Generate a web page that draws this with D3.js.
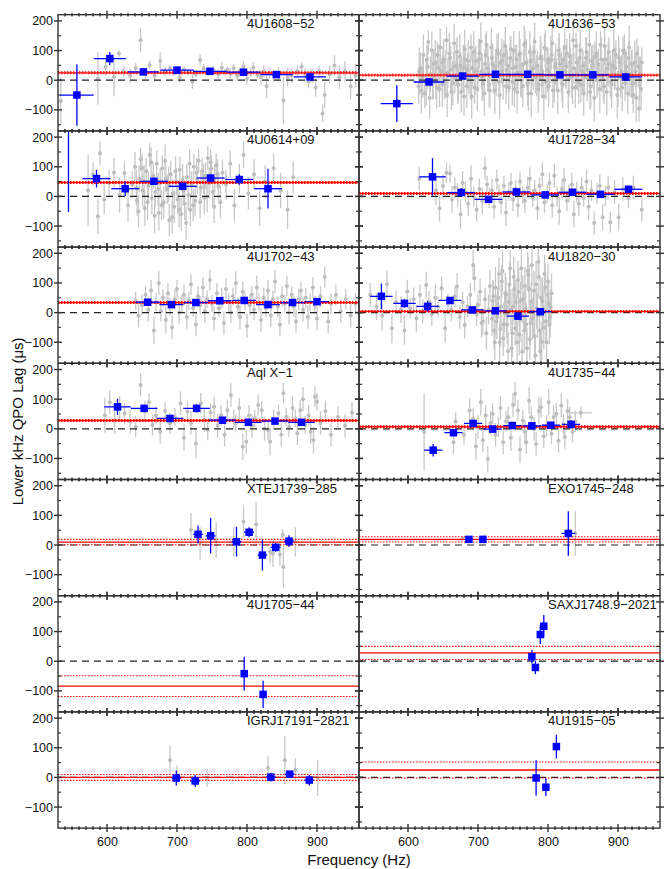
<!DOCTYPE html>
<html>
<head>
<meta charset="utf-8">
<script src="https://cdn.jsdelivr.net/npm/d3@7"></script>
<style>
  body { margin: 0; background: #fff; }
  text { font-family: "Liberation Sans", Arial, Helvetica, sans-serif; }
</style>
</head>
<body>
<div id="canvas"></div>
<script>
// panel names, in reading order (left, right, left, right ...)
const sources = ["4U1608\u221252", "4U1636\u221253", "4U0614+09", "4U1728\u221234",
                 "4U1702\u221243", "4U1820\u221230", "Aql X\u22121", "4U1735\u221244",
                 "XTEJ1739\u2212285", "EXO1745\u2212248", "4U1705\u221244", "SAXJ1748.9\u22122021",
                 "IGRJ17191\u22122821", "4U1915\u221205"];

// constant fit per source: mean lag and its 1-sigma error (us)
const fitMean = [25, 17, 47, 10, 34, 4, 28, 7, 10, 19, -84, 28, 0, 25];
const fitErr  = [3, 3, 3, 3, 3, 3, 3, 3, 9, 9, 35, 22, 10, 27];

const xTicks = [600, 700, 800, 900];
const yTicks = [-100, 0, 100, 200];
const yMinor = [-150, -50, 50, 150];

// binned lags: [freq, lag, freq err, lag err]
const blue1608 = [[557,-50,24,104],[604,73,23,22],[652,28,22,10],[700,34,24,8],[747,30,24,8],[795,27,24,8],[842,19,23,8],[890,11,23,10]];
const blue1636 = [[584,-79,23,62],[630,-6,22,12],[678,14,23,8],[725,20,23,7],[771,20,23,7],[817,18,23,7],[864,18,23,7],[911,11,23,8]];
const blue0614 = [[545,240,0,293],[585,60,20,30],[626,26,20,25],[667,51,20,12],[708,34,20,12],[748,62,20,12],[789,57,20,18],[830,26,20,67]];
const blue1728 = [[635,66,19,63],[676,13,20,15],[715,-10,20,8],[755,15,20,8],[796,5,20,8],[835,14,20,8],[875,7,20,8],[915,24,20,10]];
const blue1702 = [[658,35,17,10],[692,27,17,8],[727,34,17,10],[761,40,17,10],[796,41,17,8],[830,27,17,8],[865,34,17,10],[900,37,17,10]];
const blue1820 = [[562,55,16,43],[595,31,16,15],[628,21,16,18],[660,41,16,10],[692,9,16,8],[725,6,16,6],[757,-12,16,8],[789,3,16,8]];
const blueAql  = [[615,74,19,27],[653,69,19,12],[690,35,19,8],[728,69,19,14],[765,29,19,8],[802,22,19,8],[840,26,19,8],[878,22,19,8]];
const blue1735 = [[636,-72,13,21],[665,-13,13,12],[693,18,13,8],[721,-1,13,6],[749,11,13,7],[777,10,13,7],[804,12,13,7],[833,15,13,15]];
const blueXTE  = [[730,36,7,30],[748,31,7,60],[785,11,7,50],[803,43,7,17],[822,-34,7,52],[841,-8,7,15],[860,13,7,20]];
const blueEXO  = [[687,19,6,10],[707,19,6,10],[829,39,10,75]];
const blue1705 = [[796,-42,0,57],[823,-112,0,46]];
const blueSAX  = [[777,15,0,23],[782,-21,0,22],[789,90,0,32],[794,118,0,38]];
const blueIGR  = [[699,-2,7,25],[726,-12,7,20],[834,1,7,15],[861,11,7,10],[889,-9,7,18]];
const blue1915 = [[783,-2,0,60],[797,-33,0,30],[812,104,0,40]];

// individual observations: [freq, lag, lag err, (freq err)]
const gray1608 = [[534,-70,80],[587,6,90],[598,45,30],[610,11,65],[617,90,12],[624,30,20],[633,15,25],[641,40,18],[648,135,40],[655,20,18],[661,51,15],[668,15,20],[676,65,30],[683,30,15],[690,40,12],[696,25,10],[704,10,18],[710,35,12],[716,28,10],[722,-5,25],[727,22,12],[733,68,20],[738,40,15],[745,30,15],[752,35,12],[759,20,15],[764,42,20],[769,28,12],[772,35,10],[776,22,18],[781,40,15],[786,15,18],[790,30,12],[795,45,20],[800,5,20],[805,25,15],[809,42,20],[815,18,12],[820,10,25],[824,30,20],[828,-20,40],[832,25,18],[838,15,22],[845,20,25],[852,-68,80],[858,10,30],[864,15,25],[872,30,20],[878,45,15],[883,20,20],[888,-5,22],[893,15,25],[898,-25,30],[903,30,20],[908,-112,30],[911,-50,45],[918,20,30],[925,50,35],[932,10,40],[940,30,35],[948,-20,45],[955,15,40]];
const gray1636 = [[615,-20,60],[618,40,55],[621,10,70],[624,-45,50],[627,70,45],[629,129,40],[632,20,60],[635,-10,55],[637,55,50],[640,0,65],[642,85,45],[645,-30,60],[647,30,50],[650,60,55],[652,-5,60],[655,135,45],[657,25,50],[660,75,55],[662,-40,60],[665,45,50],[667,10,55],[670,95,50],[672,-15,60],[675,50,45],[677,20,55],[680,-55,65],[682,70,50],[685,35,55],[687,5,50],[690,110,45],[692,40,60],[695,-25,55],[697,65,50],[700,15,55],[702,90,50],[705,30,60],[707,-10,55],[710,55,50],[712,120,45],[715,25,55],[717,-35,60],[720,75,50],[722,10,55],[725,45,50],[727,100,55],[730,-5,60],[732,60,45],[735,30,55],[737,85,50],[740,-20,60],[742,50,50],[745,15,55],[747,105,45],[750,40,55],[752,-30,60],[755,70,50],[757,25,55],[760,90,50],[762,0,60],[765,55,50],[767,125,45],[770,20,55],[772,-45,60],[775,65,50],[777,35,55],[780,95,50],[782,10,55],[785,50,50],[787,-15,60],[790,80,50],[792,30,55],[795,110,45],[797,-5,60],[800,60,50],[802,25,55],[805,85,50],[807,-35,60],[810,45,50],[812,15,55],[815,100,45],[817,55,55],[820,-10,60],[822,70,50],[825,30,55],[827,90,50],[830,5,60],[832,60,50],[835,-25,55],[837,40,50],[840,115,45],[842,20,55],[845,75,50],[847,-15,60],[850,50,50],[852,10,55],[855,95,50],[857,35,55],[860,-40,60],[862,65,50],[865,25,55],[867,80,50],[870,0,60],[872,55,50],[875,120,45],[877,15,55],[880,-20,60],[882,70,50],[885,40,55],[887,95,50],[890,-5,60],[892,50,50],[895,20,55],[897,85,50],[900,-30,60],[902,60,50],[905,30,55],[907,100,45],[910,-10,60],[912,45,50],[915,75,55],[917,5,60],[920,55,50],[922,-50,60],[925,30,55],[927,90,50],[930,-96,45],[932,20,60],[934,60,50],[800,70,0,25]];
const gray1636b = [[616,30,80],[619,-35,75],[622,85,70],[626,-5,80],[628,45,75],[631,-60,70],[634,100,65],[636,15,80],[639,60,75],[641,-25,70],[644,40,80],[646,110,65],[649,-15,75],[651,70,70],[654,20,80],[656,-50,75],[659,90,70],[661,35,80],[664,-10,75],[666,125,65],[669,50,70],[671,0,80],[674,80,75],[676,-40,70],[679,40,80],[681,105,65],[684,-20,75],[686,65,70],[689,15,80],[691,-55,75],[694,95,70],[696,30,80],[699,-30,75],[701,70,70],[704,130,65],[706,10,80],[709,-45,75],[711,85,70],[714,40,80],[716,-15,75],[719,110,65],[721,55,70],[724,-35,80],[726,20,75],[729,90,70],[731,-50,80],[734,65,75],[736,5,70],[739,115,65],[741,35,80],[744,-25,75],[746,75,70],[749,-5,80],[751,100,65],[754,45,75],[756,-40,70],[759,85,80],[761,20,75],[764,-20,70],[766,120,65],[769,60,80],[771,-10,75],[774,95,70],[776,-45,80],[779,40,75],[781,130,65],[784,15,70],[786,-30,80],[789,75,75],[791,10,70],[794,-55,80],[796,105,65],[799,35,75],[801,-20,70],[804,70,80],[806,125,65],[809,0,75],[811,55,70],[814,-35,80],[816,85,75],[819,25,70],[821,-15,80],[824,110,65],[826,45,75],[829,-40,70],[831,80,80],[834,15,75],[836,135,65],[839,-25,70],[841,60,80],[844,-5,75],[846,100,70],[849,30,80],[851,-45,75],[854,75,70],[856,10,80],[859,120,65],[861,-20,75],[864,50,70],[866,-60,80],[869,90,75],[871,20,70],[874,-30,80],[876,70,75],[879,5,70],[881,115,65],[884,-40,80],[886,55,75],[889,15,70],[891,-15,80],[894,100,75],[896,40,70],[899,-50,80],[901,75,75],[904,10,70],[906,-25,80],[909,90,65],[911,30,75],[914,-45,70],[916,110,75],[919,20,80],[921,-10,70],[924,60,75],[926,-60,80],[929,45,70],[931,5,75],[933,-30,70]];
const gray0614 = [[573,20,120],[580,75,40],[587,-67,60],[590,146,40],[596,-10,50],[603,45,45],[610,80,50],[618,5,60],[625,79,40],[630,-30,55],[636,40,45],[640,100,50],[643,-15,50],[646,60,45],[648,125,40],[651,20,55],[654,-40,60],[656,85,45],[659,35,50],[661,140,40],[664,-5,55],[666,70,45],[669,15,50],[671,110,45],[674,-55,60],[676,45,50],[679,95,45],[681,-20,55],[684,60,45],[686,25,50],[689,-80,55],[691,75,45],[694,10,50],[696,-35,55],[699,50,45],[701,-10,50],[704,90,45],[706,-60,55],[709,20,50],[711,-25,55],[714,65,45],[716,5,50],[719,-45,55],[721,40,45],[724,100,45],[726,-15,50],[729,55,45],[731,120,40],[734,30,50],[736,85,45],[739,-5,55],[741,70,45],[744,130,40],[746,45,50],[749,95,45],[751,15,50],[754,60,45],[756,105,40],[759,35,50],[762,-20,55],[765,80,45],[770,40,50],[776,110,45],[782,-30,55],[789,60,50],[795,140,45],[802,10,55],[810,75,50],[818,-40,60],[826,50,55],[838,95,50],[848,20,60],[858,-45,65],[866,65,55]];
const gray0614b = [[642,30,60],[645,-50,55],[650,95,50],[653,50,55],[658,-20,60],[663,115,50],[668,-65,60],[673,25,55],[678,-30,50],[683,120,55],[688,40,60],[693,-70,55],[698,85,50],[703,-45,60],[708,55,55],[713,-90,55],[718,110,50],[723,-30,55],[728,80,50],[733,-20,55],[738,60,50],[743,0,55],[748,115,45],[753,-35,55],[758,75,50]];
const gray1728 = [[616,60,40],[640,20,50],[645,-40,45],[650,35,40],[655,80,35],[660,77,30],[663,-10,45],[667,30,35],[671,5,40],[675,-60,50],[678,45,40],[682,15,35],[686,-25,40],[690,60,45],[694,0,35],[698,-45,40],[702,25,35],[706,-15,45],[710,95,40],[713,40,30],[716,-5,35],[720,20,40],[723,-35,40],[727,55,35],[730,10,30],[733,-20,40],[737,35,35],[740,-55,45],[744,15,30],[747,45,35],[750,-10,40],[754,25,30],[757,-30,40],[760,50,35],[764,5,30],[767,-15,40],[771,30,35],[774,60,40],[778,-5,30],[781,20,35],[785,-40,40],[788,35,30],[792,75,40],[795,-20,35],[799,10,30],[802,45,35],[806,-30,40],[809,70,40],[813,0,35],[816,-50,45],[820,25,35],[823,55,40],[827,-15,35],[830,10,30],[834,40,40],[837,-60,45],[841,15,35],[844,-25,40],[848,30,35],[851,-5,30],[855,50,40],[858,-35,45],[862,20,35],[866,-90,40],[870,10,35],[874,35,40],[878,-70,45],[882,0,35],[886,30,40],[889,-87,35],[895,15,40],[901,-70,45],[907,25,40],[915,-5,35],[922,30,40],[934,-45,40]];
const gray1702 = [[641,40,30],[645,-10,40],[650,25,35],[655,60,30],[659,10,40],[663,75,35],[667,-60,45],[670,35,30],[674,100,40],[677,5,35],[680,50,30],[684,-25,45],[687,65,35],[690,20,30],[693,-50,40],[697,45,35],[700,80,30],[703,0,40],[707,30,30],[710,60,35],[714,-15,40],[717,40,30],[720,95,35],[723,15,30],[727,-40,40],[730,55,35],[733,25,30],[737,85,35],[740,5,40],[743,45,30],[747,110,35],[750,30,30],[753,-20,40],[757,65,35],[760,15,30],[764,50,35],[767,-35,40],[770,80,35],[774,35,30],[777,0,35],[780,55,30],[784,100,40],[787,20,30],[790,-15,40],[794,70,35],[797,40,30],[800,-45,40],[804,25,35],[807,60,30],[810,10,35],[814,85,40],[817,35,30],[820,-25,40],[824,50,35],[827,15,30],[830,75,35],[834,-10,40],[837,45,30],[840,105,40],[844,20,35],[847,-40,40],[850,55,35],[854,30,30],[857,90,35],[860,0,40],[864,60,30],[867,20,35],[870,-30,40],[874,45,35],[877,75,30],[880,10,40],[884,50,35],[887,-15,40],[890,35,30],[894,85,35],[897,25,30],[900,-20,40],[905,55,35],[911,120,35],[916,-30,40],[920,30,35],[927,60,35],[934,5,40],[941,45,35],[948,-10,40],[955,30,35]];
const gray1820 = [[546,60,40],[555,20,45],[563,-10,50],[570,96,45],[577,-53,50],[583,35,40],[590,10,45],[595,-60,50],[599,71,40],[603,15,35],[608,45,40],[612,-20,45],[617,60,35],[621,5,40],[626,93,45],[630,37,35],[634,-5,40],[639,50,45],[643,20,35],[648,82,40],[653,-53,50],[657,30,35],[662,10,40],[667,54,35],[670,88,45],[674,-15,40],[678,35,35],[681,-42,45],[685,20,35],[689,60,40],[693,161,50],[695,116,45],[698,-5,40],[700,26,35],[703,70,45],[705,-35,50],[707,-30,45],[710,45,40],[712,-70,55],[715,10,50],[717,90,55],[720,-20,60],[722,55,50],[724,-100,60],[726,-30,55],[728,25,60],[730,130,55],[732,-55,60],[734,105,55],[736,-87,60],[738,0,65],[740,60,60],[742,-40,65],[744,37,55],[746,150,60],[748,-120,65],[750,20,60],[752,80,65],[753,-53,60],[755,-10,70],[757,110,65],[759,-75,70],[761,40,65],[763,-132,60],[765,0,70],[767,90,65],[769,-40,70],[771,140,65],[772,127,60],[774,-90,70],[776,37,65],[778,-20,70],[780,75,65],[782,-145,60],[784,15,70],[786,172,60],[788,-60,70],[790,50,65],[791,-98,65],[793,10,70],[795,130,65],[797,-30,70],[799,60,65],[800,105,60],[802,-42,65],[804,20,60]];
const gray1820b = [[721,40,70],[723,-60,65],[725,85,70],[727,-15,75],[729,50,70],[731,-100,65],[733,20,75],[735,140,70],[737,-40,75],[739,65,70],[741,-5,80],[743,-130,65],[745,95,75],[747,10,70],[749,-70,80],[751,120,70],[754,35,75],[756,-100,70],[758,70,80],[760,-25,75],[762,150,70],[764,45,80],[766,-60,75],[768,15,80],[770,-120,70],[773,80,80],[775,-35,75],[777,160,70],[779,0,80],[781,-80,75],[783,95,80],[785,-10,75],[787,120,70],[789,-130,75],[792,40,80],[794,-50,75],[796,85,80],[798,-100,75],[801,30,70],[803,-15,70],[805,65,65]];
const grayAql  = [[597,46,60],[604,90,40],[611,29,45],[618,70,40],[625,52,35],[633,25,40],[641,7,35],[648,148,40],[654,60,35],[660,90,30],[665,13,35],[670,45,30],[676,-10,40],[683,60,30],[690,18,35],[697,40,30],[705,86,40],[710,-30,45],[715,58,35],[720,20,40],[727,-50,50],[734,86,35],[739,30,40],[744,-4,35],[748,55,30],[753,74,35],[758,10,40],[763,46,35],[768,-20,40],[772,63,35],[777,114,40],[781,30,35],[784,18,30],[789,70,35],[794,-60,45],[799,-44,40],[803,45,35],[807,10,40],[811,35,30],[816,80,35],[821,63,30],[825,0,40],[830,-4,35],[833,-44,45],[838,30,35],[845,52,30],[849,-20,40],[852,120,35],[856,40,30],[860,7,35],[865,70,40],[869,35,30],[872,-15,40],[876,63,35],[880,100,40],[883,13,30],[888,45,35],[891,-10,40],[895,-38,45],[897,108,35],[900,91,30],[905,20,40],[912,60,35],[920,-20,40],[930,40,35],[940,10,40],[950,55,35]];
const gray1735 = [[623,-11,130],[665,-45,40],[668,25,30],[680,-20,35],[688,62,40],[693,34,35],[697,-60,45],[700,6,40],[704,90,45],[707,-39,40],[711,45,35],[714,-102,45],[718,20,40],[721,51,35],[725,-20,40],[729,6,35],[732,70,40],[736,-45,40],[740,25,35],[743,39,35],[747,-30,45],[750,80,40],[753,118,40],[757,62,35],[760,-70,45],[764,28,35],[767,-10,40],[769,-45,40],[773,95,45],[776,39,35],[780,0,40],[783,-51,40],[787,60,45],[790,73,35],[794,-25,40],[798,11,35],[801,90,45],[805,-17,35],[808,40,40],[812,51,35],[815,-40,40],[819,79,40],[822,15,35],[824,-28,40],[828,60,40],[831,39,35],[835,-10,35],[839,25,35],[847,54,20,16]];
const grayXTE  = [[720,51,57],[733,5,55],[756,16,60],[781,11,50],[795,79,55],[813,70,75],[833,-22,40],[837,-29,45],[847,-32,40],[851,34,20],[852,-74,70],[869,11,50]];
const grayEXO  = [[678,22,8],[709,25,10],[839,39,75]];
const grayIGR  = [[690,58,50],[700,10,30],[743,-2,30],[830,32,40],[854,58,80],[869,25,40],[901,-2,60]];

const binned = [blue1608, blue1636, blue0614, blue1728, blue1702, blue1820, blueAql, blue1735,
                blueXTE, blueEXO, blue1705, blueSAX, blueIGR, blue1915];
const single = [gray1608, gray1636.concat(gray1636b), gray0614.concat(gray0614b), gray1728,
                gray1702, gray1820.concat(gray1820b), grayAql, gray1735,
                grayXTE, grayEXO, [], [], grayIGR, []];

const W = 667, H = 869;
const marginLeft = 58, marginTop = 14.7;
const pw = 301, ph = 116.2;

const svg = d3.select("#canvas").append("svg")
  .attr("width", W).attr("height", H)
  .style("background", "#fff");

svg.append("defs").append("clipPath").attr("id", "panelClip")
  .append("rect").attr("x", 0).attr("y", 0).attr("width", pw).attr("height", ph);

const x = d3.scaleLinear().domain([530, 960]).range([0, pw]);
const y = d3.scaleLinear().domain([-171, 221]).range([ph, 0]);

const grey = "#c8c8c8", blue = "#0000ff", red = "#ff0000", axisCol = "#333";

function drawPanel(i) {
  const col = i % 2, row = Math.floor(i / 2);
  const g = svg.append("g")
    .attr("transform", "translate(" + (marginLeft + col * pw) + "," + (marginTop + row * ph) + ")");
  const marks = g.append("g").attr("clip-path", "url(#panelClip)");

  // single observations in grey
  const pts = single[i];
  marks.selectAll(".gv").data(pts).join("line")
    .attr("x1", d => x(d[0])).attr("x2", d => x(d[0]))
    .attr("y1", d => y(d[1] - d[2])).attr("y2", d => y(d[1] + d[2]))
    .attr("stroke", grey).attr("stroke-width", 1.3);
  marks.selectAll(".gh").data(pts.filter(d => d[3])).join("line")
    .attr("x1", d => x(d[0] - d[3])).attr("x2", d => x(d[0] + d[3]))
    .attr("y1", d => y(d[1])).attr("y2", d => y(d[1]))
    .attr("stroke", grey).attr("stroke-width", 1.3);
  marks.selectAll(".gd").data(pts).join("circle")
    .attr("cx", d => x(d[0])).attr("cy", d => y(d[1])).attr("r", 2)
    .attr("fill", "#bdbdbd");

  // zero
  marks.append("line")
    .attr("x1", 0).attr("x2", pw).attr("y1", y(0)).attr("y2", y(0))
    .attr("stroke", "#222").attr("stroke-width", 1.2).attr("stroke-dasharray", "7,5");

  // constant fit
  const m = fitMean[i], e = fitErr[i];
  marks.selectAll(".fd").data([m - e, m + e]).join("line")
    .attr("x1", 0).attr("x2", pw).attr("y1", d => y(d)).attr("y2", d => y(d))
    .attr("stroke", red).attr("stroke-width", 1.1).attr("stroke-dasharray", "1.5,1.5");
  marks.append("line")
    .attr("x1", 0).attr("x2", pw).attr("y1", y(m)).attr("y2", y(m))
    .attr("stroke", red).attr("stroke-width", 1.3);

  // binned points in blue
  const b = binned[i];
  marks.selectAll(".bv").data(b).join("line")
    .attr("x1", d => x(d[0])).attr("x2", d => x(d[0]))
    .attr("y1", d => y(d[1] - d[3])).attr("y2", d => y(d[1] + d[3]))
    .attr("stroke", blue).attr("stroke-width", 1.3);
  marks.selectAll(".bh").data(b.filter(d => d[2] > 0)).join("line")
    .attr("x1", d => x(d[0] - d[2])).attr("x2", d => x(d[0] + d[2]))
    .attr("y1", d => y(d[1])).attr("y2", d => y(d[1]))
    .attr("stroke", blue).attr("stroke-width", 1.3);
  const s = 7.5;
  marks.selectAll(".bs").data(b).join("rect")
    .attr("x", d => x(d[0]) - s / 2).attr("y", d => y(d[1]) - s / 2)
    .attr("width", s).attr("height", s).attr("fill", blue);

  // frame
  g.append("rect").attr("width", pw).attr("height", ph)
    .attr("fill", "none").attr("stroke", axisCol).attr("stroke-width", 1.4);

  // y ticks, both sides
  [0, pw].forEach(function(x0) {
    g.selectAll(null).data(yTicks).join("line")
      .attr("x1", x0 - 4).attr("x2", x0 + 4)
      .attr("y1", d => y(d)).attr("y2", d => y(d))
      .attr("stroke", axisCol).attr("stroke-width", 1.4);
    const dir = x0 === 0 ? 1 : -1;
    g.selectAll(null).data(yMinor).join("line")
      .attr("x1", x0).attr("x2", x0 + dir * 3)
      .attr("y1", d => y(d)).attr("y2", d => y(d))
      .attr("stroke", axisCol).attr("stroke-width", 1.2);
  });

  // x ticks, top and bottom
  const minor = d3.range(540, 960, 10).filter(v => v % 100 !== 0);
  [0, ph].forEach(function(y0) {
    g.selectAll(null).data(xTicks).join("line")
      .attr("x1", d => x(d)).attr("x2", d => x(d))
      .attr("y1", y0 - 4).attr("y2", y0 + 4)
      .attr("stroke", axisCol).attr("stroke-width", 1.4);
    g.selectAll(null).data(minor).join("line")
      .attr("x1", d => x(d)).attr("x2", d => x(d))
      .attr("y1", y0 - 1.8).attr("y2", y0 + 1.8)
      .attr("stroke", axisCol).attr("stroke-width", 1.4);
  });

  if (col === 0) {
    const ya = d3.axisLeft(y).tickValues(yTicks).tickSize(0).tickPadding(5);
    const ax = g.append("g").call(ya);
    ax.select(".domain").remove();
    ax.selectAll("text").attr("font-size", 12.5).attr("fill", "#111")
      .style("font-family", "'Liberation Sans', Arial, sans-serif");
  }
  if (row === 6) {
    const xa = d3.axisBottom(x).tickValues(xTicks).tickSize(0).tickPadding(9);
    const ax = g.append("g").attr("transform", "translate(0," + ph + ")").call(xa);
    ax.select(".domain").remove();
    ax.selectAll("text").attr("font-size", 12.5).attr("fill", "#111")
      .style("font-family", "'Liberation Sans', Arial, sans-serif");
  }

  g.append("text")
    .attr("x", 189).attr("y", 13.5)
    .attr("font-size", 13).attr("fill", "#111")
    .text(sources[i]);
}

sources.forEach((name, i) => drawPanel(i));

svg.append("text")
  .attr("transform", "translate(23," + (marginTop + 3.5 * ph) + ") rotate(-90)")
  .attr("text-anchor", "middle")
  .attr("font-size", 15).attr("fill", "#111")
  .text("Lower kHz QPO Lag (\u03bcs)");

svg.append("text")
  .attr("x", marginLeft + pw).attr("y", 865)
  .attr("text-anchor", "middle")
  .attr("font-size", 15).attr("fill", "#111")
  .text("Frequency (Hz)");
</script>
</body>
</html>
